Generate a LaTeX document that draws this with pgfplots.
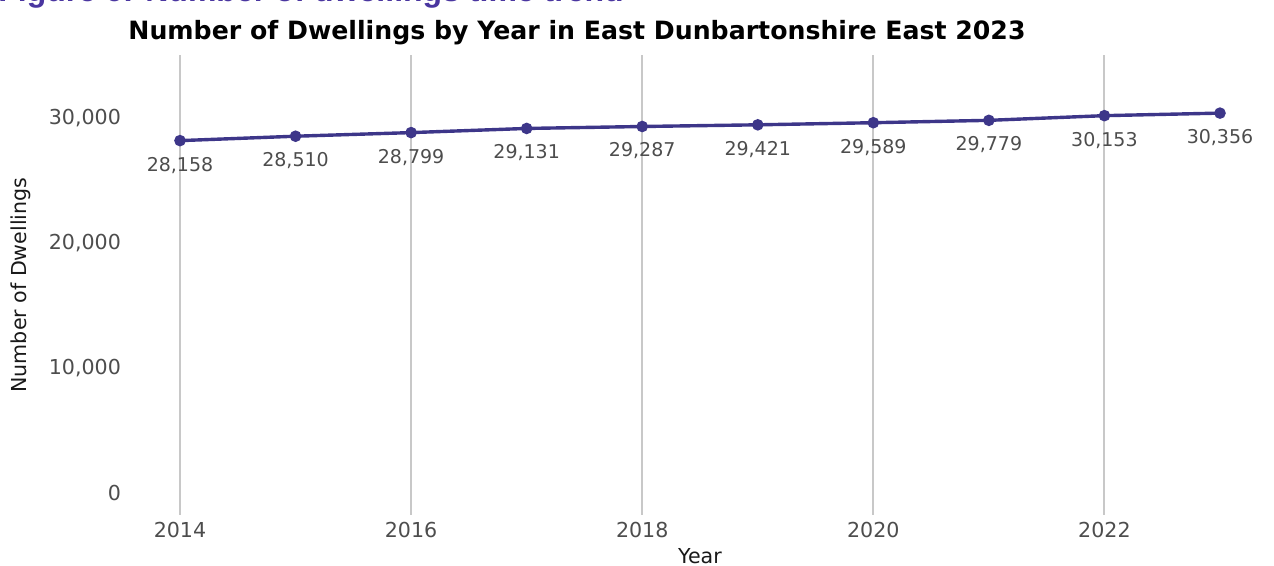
\documentclass[border=0pt]{standalone}
\usepackage{pgfplots}
\pgfplotsset{compat=1.18}
\usepackage{fontspec}
\setmainfont{DejaVu Sans}
\newfontfamily\figfont{Liberation Sans}
\definecolor{lineblue}{HTML}{3D3689}
\definecolor{figpurple}{HTML}{4A36A0}
\definecolor{txtgray}{HTML}{4D4D4D}
\definecolor{gridgray}{HTML}{C8C8C8}

\begin{document}
\begin{tikzpicture}[x=1pt,y=1pt]
\useasboundingbox (0,0) rectangle (637,283);
% clipped figure caption at the top edge
\node[anchor=base west, inner sep=0pt, text=figpurple, font=\figfont\bfseries\fontsize{16}{18}\selectfont]
  at (-1,282) {Figure 6: Number of dwellings time trend};
\node[font=\bfseries\fontsize{12.6}{14}\selectfont] at (288.5,266.5) {Number of Dwellings by Year in East Dunbartonshire East 2023};
\begin{axis}[
    at={(64pt,25.5pt)}, anchor=south west,
    scale only axis, width=572pt, height=230pt,
    xmin=2013.55, xmax=2023.45,
    ymin=-1750, ymax=35000,
    axis line style={draw=none},
    major tick length=0pt,
    xtick={2014,2016,2018,2020,2022},
    ytick={0,10000,20000,30000},
    xticklabel style={/pgf/number format/1000 sep=, text=txtgray, font=\fontsize{10.3}{12}\selectfont},
    yticklabel style={/pgf/number format/1000 sep={,}, text=txtgray, font=\fontsize{10.3}{12}\selectfont},
    scaled y ticks=false,
    /pgf/number format/assume math mode=true,
    xmajorgrids, ymajorgrids=false,
    grid style={gridgray, line width=1pt},
    xlabel={Year}, ylabel={Number of Dwellings},
    label style={font=\fontsize{10.3}{12}\selectfont, text=black!90},
    xlabel style={at={(0.5,0)}, anchor=center, yshift=-20.5pt},
    ylabel style={yshift=2pt},
    clip=false,
]
\addplot[lineblue, line width=1.7pt, mark=*, mark size=2pt,
  nodes near coords,
  point meta=explicit symbolic,
  every node near coord/.append style={anchor=north, yshift=-4pt, text=txtgray, font=\fontsize{9.5}{11}\selectfont},
] table[meta=lab] {
x y lab
2014 28158 28,158
2015 28510 28,510
2016 28799 28,799
2017 29131 29,131
2018 29287 29,287
2019 29421 29,421
2020 29589 29,589
2021 29779 29,779
2022 30153 30,153
2023 30356 30,356
};
\end{axis}
\end{tikzpicture}
\end{document}
